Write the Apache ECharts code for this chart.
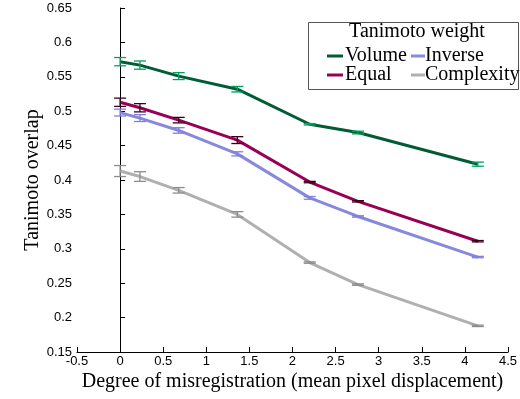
<!DOCTYPE html>
<html>
<head>
<meta charset="utf-8">
<script src="https://cdn.jsdelivr.net/npm/echarts@6/dist/echarts.min.js"></script>
<style>
  html, body { margin: 0; padding: 0; background: #fff; }
  #chart { width: 520px; height: 399px; }
</style>
</head>
<body>
<div id="chart"></div>
<script>
// mean pixel displacement of each test point
const displacement = [0, 0.23, 0.68, 1.36, 2.2, 2.76, 4.15];

const seriesNames = ['Volume', 'Equal', 'Inverse', 'Complexity'];
const volume     = [0.572, 0.567, 0.551, 0.532, 0.481, 0.469, 0.423];
const equal      = [0.513, 0.505, 0.487, 0.458, 0.397, 0.369, 0.311];
const inverse    = [0.498, 0.490, 0.472, 0.438, 0.374, 0.347, 0.288];
const complexity = [0.413, 0.405, 0.385, 0.350, 0.280, 0.248, 0.188];

// half-length of error bars
const volumeErr     = [0.006, 0.006, 0.005, 0.004, 0.001, 0.002, 0.003];
const equalErr      = [0.006, 0.006, 0.004, 0.005, 0.001, 0.001, 0.001];
const inverseErr    = [0.005, 0.005, 0.004, 0.003, 0.002, 0.001, 0.001];
const complexityErr = [0.008, 0.007, 0.004, 0.004, 0.001, 0.001, 0.001];

const lineColors = ['#005c32', '#990055', '#8888dd', '#b0b0b0'];
const barColors  = ['#00a060', '#3a0020', '#7f7fe0', '#8c8c8c'];

const values = [volume, equal, inverse, complexity];
const errors = [volumeErr, equalErr, inverseErr, complexityErr];

const chart = echarts.init(document.getElementById('chart'));

const fmt = v => String(+v.toFixed(2));

const lineSeries = seriesNames.map((name, i) => ({
  name: name,
  type: 'line',
  data: displacement.map((x, j) => [x, values[i][j]]),
  showSymbol: false,
  lineStyle: { width: 3, color: lineColors[i] },
  itemStyle: { color: lineColors[i] },
  z: 2
}));

const errorSeries = seriesNames.map((name, i) => ({
  type: 'custom',
  data: displacement.map((x, j) => [x, values[i][j] - errors[i][j], values[i][j] + errors[i][j]]),
  renderItem: (params, api) => {
    const lo = api.coord([api.value(0), api.value(1)]);
    const hi = api.coord([api.value(0), api.value(2)]);
    const w = 6;
    const style = { stroke: barColors[i], lineWidth: 1.3 };
    return {
      type: 'group',
      children: [
        { type: 'line', shape: { x1: lo[0], y1: lo[1], x2: hi[0], y2: hi[1] }, style },
        { type: 'line', shape: { x1: lo[0] - w, y1: lo[1], x2: lo[0] + w, y2: lo[1] }, style },
        { type: 'line', shape: { x1: hi[0] - w, y1: hi[1], x2: hi[0] + w, y2: hi[1] }, style }
      ]
    };
  },
  silent: true,
  z: 3
}));

const legendText = { fontFamily: 'Liberation Serif', fontSize: 20, color: '#000' };

const option = {
  animation: false,
  backgroundColor: '#fff',
  grid: { left: 77, right: 10, top: 8, bottom: 47 },
  xAxis: {
    type: 'value',
    min: -0.5,
    max: 4.5,
    interval: 0.5,
    name: 'Degree of misregistration (mean pixel displacement)',
    nameLocation: 'middle',
    nameGap: 20,
    nameMoveOverlap: false,
    nameTextStyle: { fontFamily: 'Liberation Serif', fontSize: 20, color: '#000' },
    axisLine: { lineStyle: { color: '#000', width: 1 } },
    axisTick: { inside: true, length: 5, lineStyle: { color: '#000' } },
    axisLabel: { formatter: fmt, fontFamily: 'Liberation Sans', fontSize: 13, color: '#000', margin: 3 },
    splitLine: { show: false }
  },
  yAxis: {
    type: 'value',
    min: 0.15,
    max: 0.65,
    interval: 0.05,
    name: 'Tanimoto overlap',
    nameLocation: 'middle',
    nameGap: 34,
    nameMoveOverlap: false,
    nameTextStyle: { fontFamily: 'Liberation Serif', fontSize: 20, color: '#000' },
    axisLine: { show: true, lineStyle: { color: '#000', width: 1 } },
    axisTick: { show: true, inside: true, length: 5, lineStyle: { color: '#000' } },
    axisLabel: { formatter: fmt, fontFamily: 'Liberation Sans', fontSize: 13, color: '#000', margin: 5 },
    splitLine: { show: false }
  },
  legend: [
    {
      data: ['Volume', 'Equal'],
      orient: 'vertical',
      left: 322,
      top: 41,
      z: 100,
      icon: 'rect',
      itemWidth: 16,
      itemHeight: 3,
      itemGap: -1,
      textStyle: Object.assign({ padding: [0, 0, 0, -3] }, legendText)
    },
    {
      data: ['Inverse', 'Complexity'],
      orient: 'vertical',
      left: 406,
      top: 41,
      z: 100,
      icon: 'rect',
      itemWidth: 14,
      itemHeight: 3,
      itemGap: -1,
      textStyle: Object.assign({ padding: [0, 0, 0, -5] }, legendText)
    }
  ],
  graphic: [
    {
      type: 'rect',
      shape: { x: 308.5, y: 22.5, width: 210, height: 67 },
      style: { fill: '#fff', stroke: '#555', lineWidth: 1 },
      z: 1
    },
    {
      type: 'text',
      x: 417,
      y: 32,
      style: Object.assign({ text: 'Tanimoto weight', align: 'center', verticalAlign: 'middle' }, legendText),
      z: 2
    }
  ],
  series: lineSeries.concat(errorSeries)
};

chart.setOption(option);
</script>
</body>
</html>
